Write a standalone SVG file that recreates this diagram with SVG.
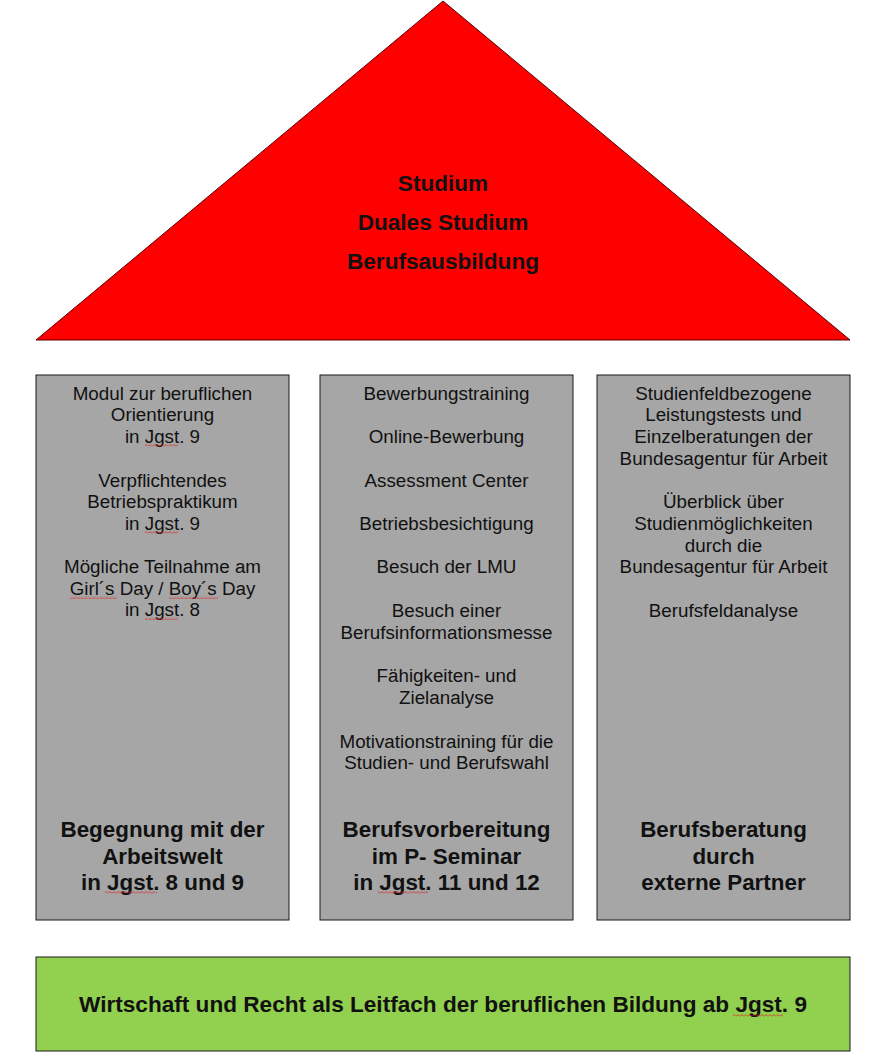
<svg xmlns="http://www.w3.org/2000/svg" width="872" height="1064" viewBox="0 0 872 1064">
<defs>
<pattern id="wave" patternUnits="userSpaceOnUse" x="0" y="0" width="4" height="3">
<path d="M0,2.5 L2,0.5 L4,2.5" fill="none" stroke="#e02020" stroke-width="0.8"/>
</pattern>
<style>
.box{fill:#a6a6a6;stroke:#1a1a1a;stroke-width:1}
.t{font-family:"Liberation Sans",Arial,sans-serif;font-size:18.8px;fill:#111;text-anchor:middle}
.h{font-family:"Liberation Sans",Arial,sans-serif;font-size:22.4px;font-weight:bold;fill:#111;text-anchor:middle}
.r{font-family:"Liberation Sans",Arial,sans-serif;font-size:22.6px;font-weight:bold;fill:#111;text-anchor:middle}
.sq{fill:url(#wave)}
</style>
</defs>
<rect width="872" height="1064" fill="#ffffff"/>
<g id="roof">
<polygon points="443,1 36,340 850,340" fill="#ff0000" stroke="#5a0000" stroke-width="1"/>
<text class="r" x="443" y="191">Studium</text>
<text class="r" x="443" y="230">Duales Studium</text>
<text class="r" x="443" y="269">Berufsausbildung</text>
</g>
<g id="pillar1">
<rect class="box" x="36" y="375" width="253" height="545"/>
<text class="t" x="162.5" y="399.5">Modul zur beruflichen</text>
<text class="t" x="162.5" y="421">Orientierung</text>
<text class="t" x="162.5" y="442.5">in Jgst. 9</text>
<text class="t" x="162.5" y="486.5">Verpflichtendes</text>
<text class="t" x="162.5" y="508">Betriebspraktikum</text>
<text class="t" x="162.5" y="529.5">in Jgst. 9</text>
<text class="t" x="162.5" y="573">Mögliche Teilnahme am</text>
<text class="t" x="162.5" y="594.5">Girl´s Day / Boy´s Day</text>
<text class="t" x="162.5" y="616">in Jgst. 8</text>
<rect class="sq" x="145" y="444" width="33" height="3"/>
<rect class="sq" x="145" y="531" width="33" height="3"/>
<rect class="sq" x="70" y="596" width="47" height="3"/>
<rect class="sq" x="169" y="596" width="49" height="3"/>
<rect class="sq" x="145" y="617" width="33" height="3"/>
<text class="h" x="162.5" y="837">Begegnung mit der</text>
<text class="h" x="162.5" y="864">Arbeitswelt</text>
<text class="h" x="162.5" y="890">in Jgst. 8 und 9</text>
<rect class="sq" x="105" y="891" width="52" height="3"/>
</g>
<g id="pillar2">
<rect class="box" x="320" y="375" width="253" height="545"/>
<text class="t" x="446.5" y="399.5">Bewerbungstraining</text>
<text class="t" x="446.5" y="442.5">Online-Bewerbung</text>
<text class="t" x="446.5" y="486.5">Assessment Center</text>
<text class="t" x="446.5" y="529.5">Betriebsbesichtigung</text>
<text class="t" x="446.5" y="573">Besuch der LMU</text>
<text class="t" x="446.5" y="616.5">Besuch einer</text>
<text class="t" x="446.5" y="638.5">Berufsinformationsmesse</text>
<text class="t" x="446.5" y="681.5">Fähigkeiten- und</text>
<text class="t" x="446.5" y="703.5">Zielanalyse</text>
<text class="t" x="446.5" y="747.5">Motivationstraining für die</text>
<text class="t" x="446.5" y="768.5">Studien- und Berufswahl</text>
<text class="h" x="446.5" y="837">Berufsvorbereitung</text>
<text class="h" x="446.5" y="864">im P- Seminar</text>
<text class="h" x="446.5" y="890">in Jgst. 11 und 12</text>
<rect class="sq" x="378" y="891" width="50" height="3"/>
</g>
<g id="pillar3">
<rect class="box" x="597" y="375" width="253" height="545"/>
<text class="t" x="723.5" y="399.5">Studienfeldbezogene</text>
<text class="t" x="723.5" y="421">Leistungstests und</text>
<text class="t" x="723.5" y="442.5">Einzelberatungen der</text>
<text class="t" x="723.5" y="464.5">Bundesagentur für Arbeit</text>
<text class="t" x="723.5" y="508">Überblick über</text>
<text class="t" x="723.5" y="529.5">Studienmöglichkeiten</text>
<text class="t" x="723.5" y="551.5">durch die</text>
<text class="t" x="723.5" y="573">Bundesagentur für Arbeit</text>
<text class="t" x="723.5" y="616.5">Berufsfeldanalyse</text>
<text class="h" x="723.5" y="837">Berufsberatung</text>
<text class="h" x="723.5" y="864">durch</text>
<text class="h" x="723.5" y="890">externe Partner</text>
</g>
<g id="foundation">
<rect x="36" y="957" width="814" height="94" fill="#92d050" stroke="#1a1a1a" stroke-width="1"/>
<text class="r" x="443" y="1012">Wirtschaft und Recht als Leitfach der beruflichen Bildung ab Jgst. 9</text>
<rect class="sq" x="733" y="1014" width="50" height="3"/>
</g>
<g id="connectors"/>
</svg>
